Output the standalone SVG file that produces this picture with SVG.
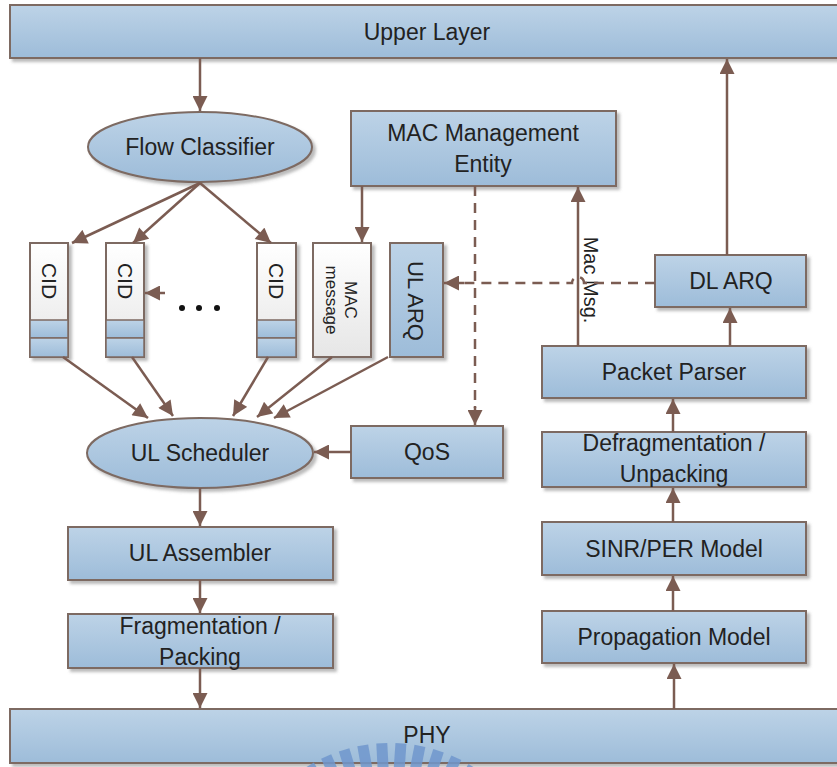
<svg xmlns="http://www.w3.org/2000/svg" width="837" height="767" viewBox="0 0 837 767">
<style>
.box{fill:url(#blue);stroke:#7d6a62;stroke-width:2;filter:url(#sh)}
.wbox{fill:url(#white);stroke:#7d6a62;stroke-width:2;filter:url(#sh)}
.band{fill:url(#blue);stroke:#7d6a62;stroke-width:1.5}
.t{font-family:"Liberation Sans",Arial,sans-serif;font-size:23px;fill:#222;text-anchor:middle}
.c{stroke:#7b5c52;stroke-width:2.5;fill:none;marker-end:url(#ah)}
.d{stroke:#7b5c52;stroke-width:2.5;fill:none;stroke-dasharray:10 7}
.wm{fill:#7096cc;opacity:0.85}
</style>
<defs>
<linearGradient id="blue" x1="0" y1="0" x2="0" y2="1">
<stop offset="0" stop-color="#bdd3e7"/>
<stop offset="1" stop-color="#9dbcd9"/>
</linearGradient>
<linearGradient id="white" x1="0" y1="0" x2="0" y2="1">
<stop offset="0" stop-color="#ffffff"/>
<stop offset="1" stop-color="#e6e6e6"/>
</linearGradient>
<filter id="sh" x="-10%" y="-10%" width="130%" height="140%">
<feDropShadow dx="3" dy="3" stdDeviation="1.5" flood-color="#777" flood-opacity="0.5"/>
</filter>
<marker id="ah" viewBox="0 0 10 10" refX="10" refY="5" markerWidth="6.4" markerHeight="6" orient="auto" markerUnits="strokeWidth">
<path d="M0,0 L10,5 L0,10 z" fill="#7b5c52"/>
</marker>
</defs>

<g id="upper-layer">
<rect class="box" x="10" y="5" width="835" height="53"/>
<text class="t" x="427" y="40">Upper Layer</text>
</g>
<g id="flow-classifier">
<ellipse class="box" cx="200" cy="147" rx="112" ry="35"/>
<text class="t" x="200" y="155">Flow Classifier</text>
</g>
<g id="mac-mgmt">
<rect class="box" x="351" y="111" width="265" height="75"/>
<text class="t" x="483" y="141">MAC Management</text>
<text class="t" x="483" y="172">Entity</text>
</g>
<g id="cid1">
<rect class="wbox" x="30" y="243" width="38" height="114"/>
<rect class="band" x="30" y="320" width="38" height="18"/>
<rect class="band" x="30" y="338" width="38" height="19"/>
<text class="t" style="font-size:21px" transform="translate(42,281) rotate(90)">CID</text>
</g>
<g id="cid2">
<rect class="wbox" x="106" y="243" width="38" height="114"/>
<rect class="band" x="106" y="320" width="38" height="18"/>
<rect class="band" x="106" y="338" width="38" height="19"/>
<text class="t" style="font-size:21px" transform="translate(118,281) rotate(90)">CID</text>
</g>
<g id="dots">
<circle cx="182" cy="308" r="3" fill="#111"/>
<circle cx="199" cy="308" r="3" fill="#111"/>
<circle cx="217" cy="308" r="3" fill="#111"/>
</g>
<g id="cid3">
<rect class="wbox" x="257" y="243" width="39" height="114"/>
<rect class="band" x="257" y="320" width="39" height="18"/>
<rect class="band" x="257" y="338" width="39" height="19"/>
<text class="t" style="font-size:21px" transform="translate(269,281) rotate(90)">CID</text>
</g>
<g id="mac-message">
<rect class="wbox" x="313" y="243" width="58" height="114"/>
<text class="t" style="font-size:17px" transform="translate(345,300) rotate(90)">MAC</text>
<text class="t" style="font-size:17px" transform="translate(326,300) rotate(90)">message</text>
</g>
<g id="ul-arq">
<rect class="box" x="390" y="243" width="53" height="114"/>
<text class="t" style="font-size:22px" transform="translate(408,301) rotate(90)">UL ARQ</text>
</g>
<g id="ul-scheduler">
<ellipse class="box" cx="200" cy="453" rx="113" ry="35"/>
<text class="t" x="200" y="461">UL Scheduler</text>
</g>
<g id="qos">
<rect class="box" x="351" y="426" width="152" height="52"/>
<text class="t" x="427" y="460">QoS</text>
</g>
<g id="ul-assembler">
<rect class="box" x="68" y="527" width="265" height="53"/>
<text class="t" x="200" y="561">UL Assembler</text>
</g>
<g id="fragmentation">
<rect class="box" x="68" y="614" width="265" height="54"/>
<text class="t" x="200" y="634">Fragmentation /</text>
<text class="t" x="200" y="665">Packing</text>
</g>
<g id="dl-arq">
<rect class="box" x="655" y="255" width="151" height="52"/>
<text class="t" x="731" y="289">DL ARQ</text>
</g>
<g id="packet-parser">
<rect class="box" x="542" y="346" width="264" height="52"/>
<text class="t" x="674" y="380">Packet Parser</text>
</g>
<g id="defragmentation">
<rect class="box" x="542" y="432" width="264" height="55"/>
<text class="t" x="674" y="451">Defragmentation /</text>
<text class="t" x="674" y="482">Unpacking</text>
</g>
<g id="sinr">
<rect class="box" x="542" y="522" width="264" height="53"/>
<text class="t" x="674" y="557">SINR/PER Model</text>
</g>
<g id="propagation">
<rect class="box" x="542" y="611" width="264" height="52"/>
<text class="t" x="674" y="645">Propagation Model</text>
</g>
<g id="phy">
<rect class="box" x="10" y="709" width="835" height="54"/>
<text class="t" x="427" y="743">PHY</text>
</g>

<g id="connectors">
<line class="c" x1="200" y1="58" x2="200" y2="111"/>
<line class="c" x1="200" y1="183" x2="72" y2="243"/>
<line class="c" x1="200" y1="183" x2="133" y2="243"/>
<line class="c" x1="200" y1="183" x2="271" y2="243"/>
<line class="c" x1="362" y1="186" x2="362" y2="242"/>
<line class="c" x1="165" y1="293" x2="145" y2="293"/>
<line class="c" x1="63" y1="357" x2="148" y2="418"/>
<line class="c" x1="132" y1="357" x2="173" y2="416"/>
<line class="c" x1="268" y1="357" x2="233" y2="416"/>
<line class="c" x1="332" y1="357" x2="257" y2="417"/>
<line class="c" x1="388" y1="357" x2="274" y2="418"/>
<line class="c" x1="351" y1="452" x2="314" y2="452"/>
<line class="c" x1="200" y1="488" x2="200" y2="526"/>
<line class="c" x1="200" y1="580" x2="200" y2="613"/>
<line class="c" x1="200" y1="668" x2="200" y2="708"/>
<line class="c" x1="674" y1="709" x2="674" y2="664"/>
<line class="c" x1="673" y1="611" x2="673" y2="576"/>
<line class="c" x1="673" y1="522" x2="673" y2="488"/>
<line class="c" x1="673" y1="432" x2="673" y2="399"/>
<line class="c" x1="730" y1="346" x2="730" y2="308"/>
<line class="c" x1="727" y1="255" x2="727" y2="59"/>
<line class="c" x1="578" y1="346" x2="578" y2="187"/>
<text class="t" style="font-size:20px" transform="translate(584,280) rotate(90)">Mac Msg.</text>
<line class="d" x1="475" y1="186" x2="475" y2="408"/>
<line class="c" x1="475" y1="406" x2="475" y2="425"/>
<path class="d" d="M655,283 H584 A6,6 0 0 0 572,283 H462"/>
<line class="c" x1="464" y1="283" x2="444" y2="283"/>
</g>

<g id="watermark">
<g transform="translate(390,900)">
<rect class="wm" x="-5.5" y="-157" width="11" height="34" transform="rotate(-38)"/>
<rect class="wm" x="-5.5" y="-157" width="11" height="34" transform="rotate(-31)"/>
<rect class="wm" x="-5.5" y="-157" width="11" height="34" transform="rotate(-24)"/>
<rect class="wm" x="-5.5" y="-157" width="11" height="34" transform="rotate(-17)"/>
<rect class="wm" x="-5.5" y="-157" width="11" height="34" transform="rotate(-10)"/>
<rect class="wm" x="-5.5" y="-157" width="11" height="34" transform="rotate(-3)"/>
<rect class="wm" x="-5.5" y="-157" width="11" height="34" transform="rotate(4)"/>
<rect class="wm" x="-5.5" y="-157" width="11" height="34" transform="rotate(11)"/>
<rect class="wm" x="-5.5" y="-157" width="11" height="34" transform="rotate(18)"/>
<rect class="wm" x="-5.5" y="-157" width="11" height="34" transform="rotate(25)"/>
<rect class="wm" x="-5.5" y="-157" width="11" height="34" transform="rotate(32)"/>
</g>
</g>
</svg>
